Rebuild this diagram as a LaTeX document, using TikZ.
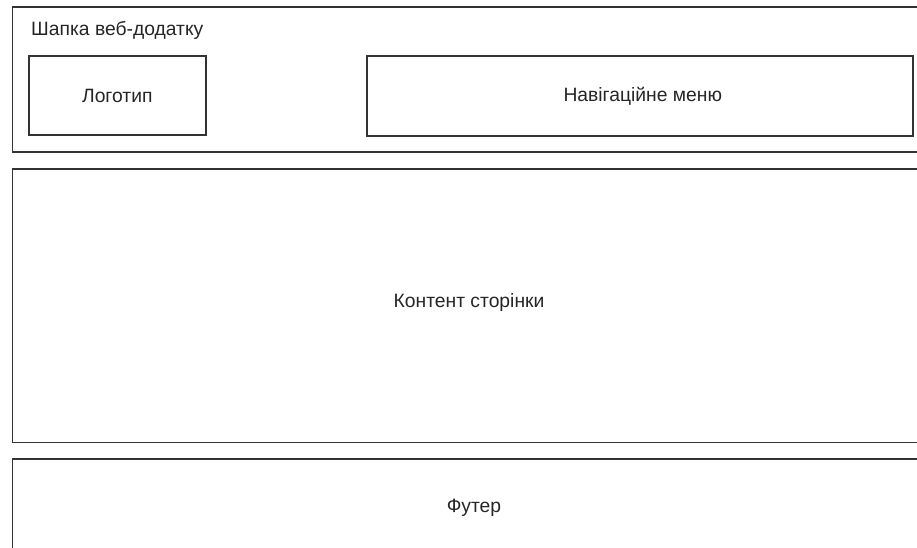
\documentclass[tikz,border=0pt]{standalone}
\usepackage{fontspec}
\setmainfont{Liberation Sans}
\usepackage{tikz}

\tikzset{
  block/.style={draw=black!80,line width=1.6pt,fill=white,inner sep=0pt,anchor=north west},
  label/.style={font=\fontsize{19.3}{22}\selectfont,text=black!85,inner sep=0pt}
}

\begin{document}
\begin{tikzpicture}[x=1pt,y=-1pt]
\useasboundingbox (0,0) rectangle (917,548);
\clip (0,0) rectangle (917,548);
% header with logo and menu
\node[block,minimum width=920pt,minimum height=144.5pt] (header) at (11.5,6.5) {};
\node[label,anchor=west] (headertext) at (31,30) {Шапка веб-додатку};
\node[block,minimum width=177pt,minimum height=79.5pt] (logo) at (28,55) {};
\node[label] at (logo.center) {Логотип};
\node[block,minimum width=546pt,minimum height=80pt] (menu) at (366,55) {};
\node[label] at ([xshift=3pt]menu.center) {Навігаційне меню};
% page content
\node[block,minimum width=920pt,minimum height=273.5pt] (content) at (11.5,168) {};
\node[label] (contenttext) at (469,303) {Контент сторінки};
% footer
\node[block,minimum width=920pt,minimum height=110pt] (footer) at (11.5,458) {};
\node[label] (footertext) at (474,508) {Футер};
\end{tikzpicture}
\end{document}
